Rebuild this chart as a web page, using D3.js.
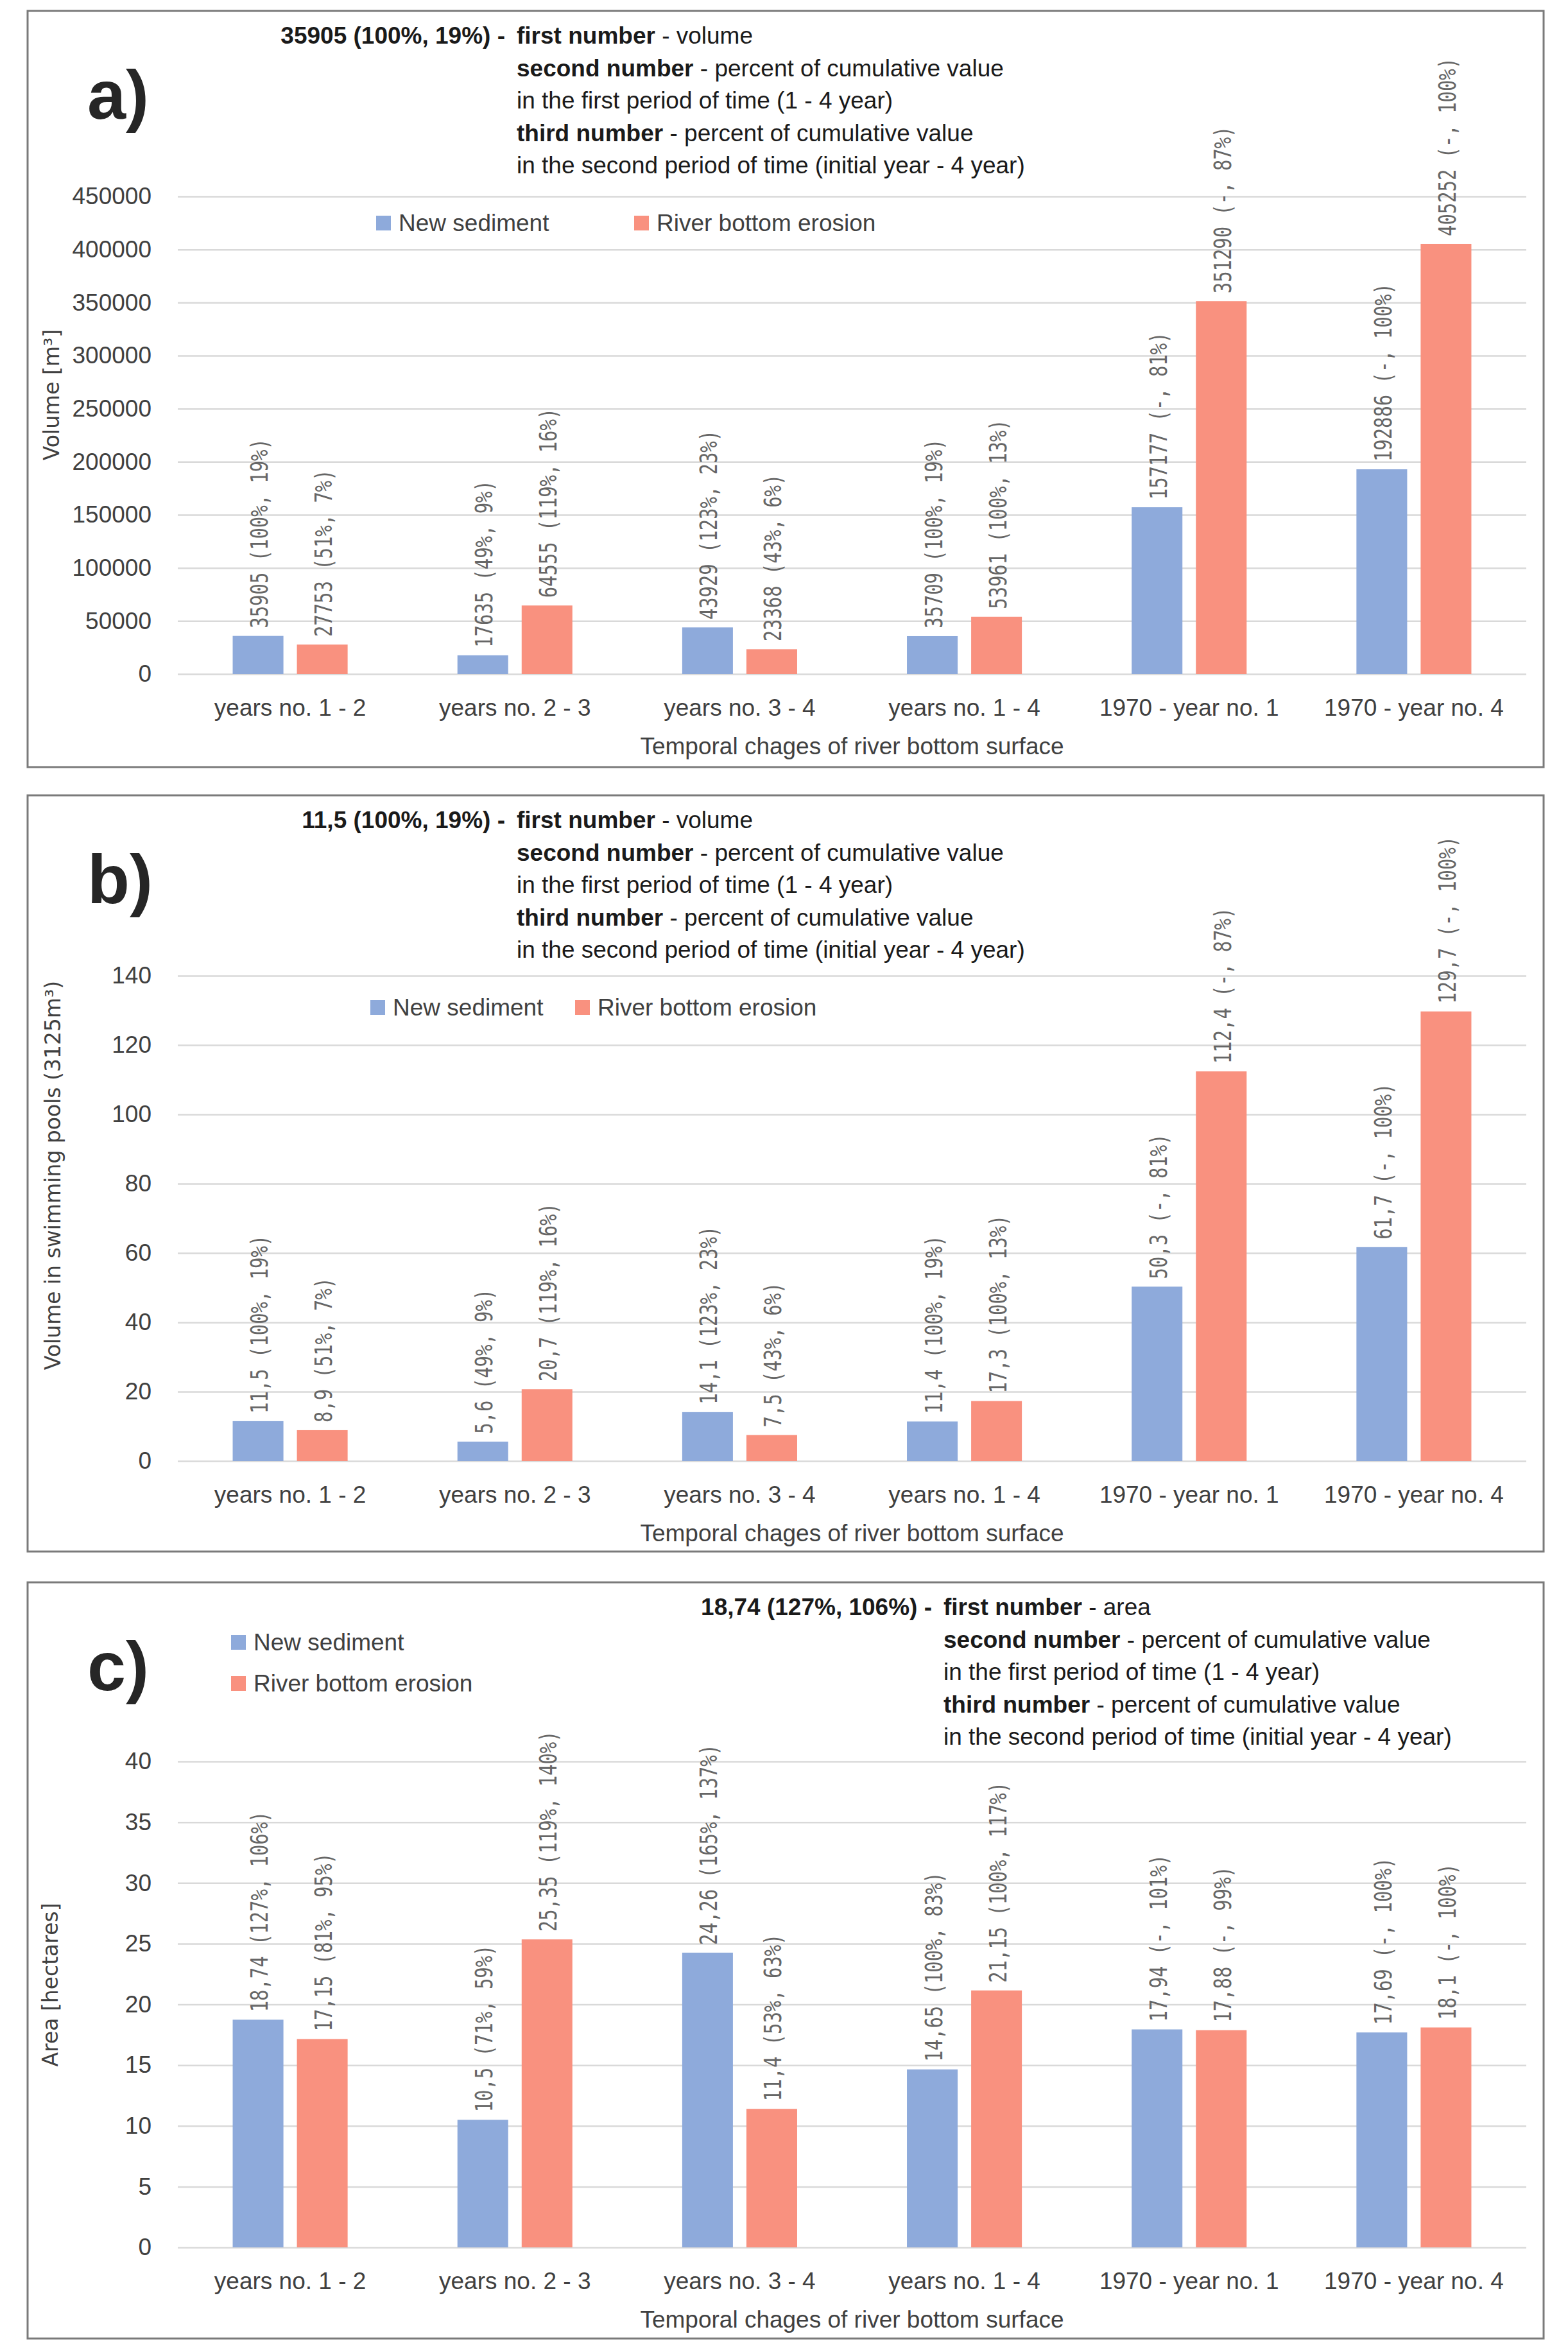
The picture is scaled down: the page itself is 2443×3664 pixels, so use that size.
<!DOCTYPE html>
<html lang="en">
<head>
    <meta charset="UTF-8">
    <title>Temporal changes of river bottom surface</title>
    <script src="https://d3js.org/d3.v7.min.js"></script>
    <style>
        body { margin: 0; background: #fff; }
        text { font-family: "Liberation Sans", Arial, sans-serif; }
        .grid line { stroke: #d9d9d9; stroke-width: 2.5; }
        .grid text { font-size: 37px; fill: #404040; }
        .cats text { font-size: 37px; fill: #404040; }
        .barlabel { font-family: "DejaVu Sans Mono", monospace; font-size: 38px; fill: #666; }
        .ytitle { font-family: "DejaVu Sans", sans-serif; font-size: 33px; fill: #404040; }
        .note { font-size: 37px; fill: #1a1a1a; }
    </style>
</head>
<body>
    <div id="chart"></div>

    <script>
        // categories and series
        const categories = ["years no. 1 - 2", "years no. 2 - 3", "years no. 3 - 4",
                            "years no. 1 - 4", "1970 - year no. 1", "1970 - year no. 4"];
        const seriesNames = ["New sediment", "River bottom erosion"];

        // a) volume [m3]
        const volumeNew     = [35905, 17635, 43929, 35709, 157177, 192886];
        const volumeErosion = [27753, 64555, 23368, 53961, 351290, 405252];
        const volumeTicks   = [0, 50000, 100000, 150000, 200000, 250000, 300000, 350000, 400000, 450000];

        // b) volume in swimming pools
        const poolsNew     = [11.5, 5.6, 14.1, 11.4, 50.3, 61.7];
        const poolsErosion = [8.9, 20.7, 7.5, 17.3, 112.4, 129.7];
        const poolsTicks   = [0, 20, 40, 60, 80, 100, 120, 140];

        // percent pairs shared by a) and b)
        const volumePctNew     = ["100%, 19%", "49%, 9%", "123%, 23%", "100%, 19%", "-, 81%", "-, 100%"];
        const volumePctErosion = ["51%, 7%", "119%, 16%", "43%, 6%", "100%, 13%", "-, 87%", "-, 100%"];

        // c) area [hectares]
        const areaNew        = [18.74, 10.5, 24.26, 14.65, 17.94, 17.69];
        const areaErosion    = [17.15, 25.35, 11.4, 21.15, 17.88, 18.1];
        const areaPctNew     = ["127%, 106%", "71%, 59%", "165%, 137%", "100%, 83%", "-, 101%", "-, 100%"];
        const areaPctErosion = ["81%, 95%", "119%, 140%", "53%, 63%", "100%, 117%", "-, 99%", "-, 100%"];
        const areaTicks      = [0, 5, 10, 15, 20, 25, 30, 35, 40];

        const colors = ["#8eaadb", "#f9917f"];
        const xTitle = "Temporal chages of river bottom surface";

        const panels = [
            {
                letter: "a)", top: 17, zero: 1050, topGrid: 306, ticks: volumeTicks,
                values: [volumeNew, volumeErosion], pct: [volumePctNew, volumePctErosion],
                yTitle: "Volume [m³]", yTitleY: 615, yTitleX: 80,
                noteX: 805, notePrefix: "35905 (100%, 19%) -", noteWhat: "volume",
                legend: [{x: 586, y: 360}, {x: 988, y: 360}]
            },
            {
                letter: "b)", top: 1239, zero: 2276, topGrid: 1520, ticks: poolsTicks,
                values: [poolsNew, poolsErosion], pct: [volumePctNew, volumePctErosion],
                yTitle: "Volume in swimming pools (3125m³)", yTitleY: 1831, yTitleX: 82,
                noteX: 805, notePrefix: "11,5 (100%, 19%) -", noteWhat: "volume",
                legend: [{x: 577, y: 1582}, {x: 896, y: 1582}]
            },
            {
                letter: "c)", top: 2465, zero: 3501, topGrid: 2744, ticks: areaTicks,
                values: [areaNew, areaErosion], pct: [areaPctNew, areaPctErosion],
                yTitle: "Area [hectares]", yTitleY: 3092, yTitleX: 78,
                noteX: 1470, notePrefix: "18,74 (127%, 106%) -", noteWhat: "area",
                legend: [{x: 360, y: 2571}, {x: 360, y: 2635}]
            }
        ];

        const left = 277, right = 2378;

        const svg = d3.select("#chart")
            .append("svg")
            .attr("width", 2443)
            .attr("height", 3664);

        const fmt = v => String(v).replace(".", ",");

        function drawPanel(p) {
            const g = svg.append("g");

            // frame
            g.append("rect")
                .attr("x", 43).attr("y", p.top)
                .attr("width", 2362).attr("height", 1178)
                .attr("fill", "#fff")
                .attr("stroke", "#7a7a7a")
                .attr("stroke-width", 3);

            const x0 = d3.scaleBand().domain(categories).range([left, right]);
            const x1 = d3.scaleBand().domain([0, 1])
                .range([0, x0.bandwidth()])
                .paddingInner(0.21)
                .paddingOuter(0.855);
            const y = d3.scaleLinear()
                .domain([0, p.ticks[p.ticks.length - 1]])
                .range([p.zero, p.topGrid]);

            // gridlines + tick labels
            g.append("g")
                .attr("class", "grid")
                .attr("transform", `translate(${left},0)`)
                .call(d3.axisLeft(y).tickValues(p.ticks).tickSize(-(right - left)).tickPadding(41).tickFormat(d => d))
                .call(a => a.select(".domain").remove());

            // category labels
            g.append("g")
                .attr("class", "cats")
                .attr("transform", `translate(0,${p.zero})`)
                .call(d3.axisBottom(x0).tickSize(0).tickPadding(39))
                .call(a => a.select(".domain").remove());

            // bars
            const rows = [];
            categories.forEach((c, i) => {
                p.values.forEach((vals, s) => {
                    rows.push({cat: c, s: s, v: vals[i], pct: p.pct[s][i]});
                });
            });

            g.selectAll(".bar")
                .data(rows)
                .join("rect")
                .attr("class", "bar")
                .attr("x", d => x0(d.cat) + x1(d.s))
                .attr("width", x1.bandwidth())
                .attr("y", d => y(d.v))
                .attr("height", d => p.zero - y(d.v))
                .attr("fill", d => colors[d.s]);

            g.selectAll(".barlabel")
                .data(rows)
                .join("text")
                .attr("class", "barlabel")
                .attr("transform", d => `translate(${x0(d.cat) + x1(d.s) + x1.bandwidth() / 2 + 2},${y(d.v) - 12}) rotate(-90) scale(0.76,1)`)
                .attr("dominant-baseline", "central")
                .text(d => `${fmt(d.v)} (${d.pct})`);

            // axis titles
            g.append("text")
                .attr("class", "ytitle")
                .attr("transform", `translate(${p.yTitleX},${p.yTitleY}) rotate(-90)`)
                .attr("text-anchor", "middle")
                .attr("dominant-baseline", "central")
                .text(p.yTitle);

            g.append("text")
                .attr("x", (left + right) / 2)
                .attr("y", p.zero + 125)
                .attr("text-anchor", "middle")
                .attr("font-size", 37)
                .attr("fill", "#404040")
                .text(xTitle);

            // panel letter
            g.append("text")
                .attr("x", 136)
                .attr("y", p.top + 168)
                .attr("font-size", 108)
                .attr("font-weight", "bold")
                .attr("fill", "#262626")
                .text(p.letter);

            // legend
            const lg = g.selectAll(".legend")
                .data(seriesNames)
                .join("g")
                .attr("class", "legend")
                .attr("transform", (d, i) => `translate(${p.legend[i].x},${p.legend[i].y})`);
            lg.append("rect")
                .attr("x", 0).attr("y", -24)
                .attr("width", 23).attr("height", 23)
                .attr("fill", (d, i) => colors[i]);
            lg.append("text")
                .attr("x", 35)
                .attr("font-size", 37)
                .attr("fill", "#404040")
                .text(d => d);

            // explanation note
            const base = p.top + 51;
            const lines = [
                [["first number", true], [" - " + p.noteWhat, false]],
                [["second number", true], [" - percent of cumulative value", false]],
                [["in the first period of time (1 - 4 year)", false]],
                [["third number", true], [" - percent of cumulative value", false]],
                [["in the second period of time (initial year - 4 year)", false]]
            ];

            g.append("text")
                .attr("class", "note")
                .attr("x", p.noteX - 18)
                .attr("y", base)
                .attr("text-anchor", "end")
                .attr("font-weight", "bold")
                .text(p.notePrefix);

            lines.forEach((parts, li) => {
                const t = g.append("text")
                    .attr("class", "note")
                    .attr("x", p.noteX)
                    .attr("y", base + li * 50.5);
                parts.forEach(([str, bold]) => {
                    t.append("tspan")
                        .attr("font-weight", bold ? "bold" : "normal")
                        .text(str);
                });
            });
        }

        panels.forEach(drawPanel);
    </script>
</body>
</html>
